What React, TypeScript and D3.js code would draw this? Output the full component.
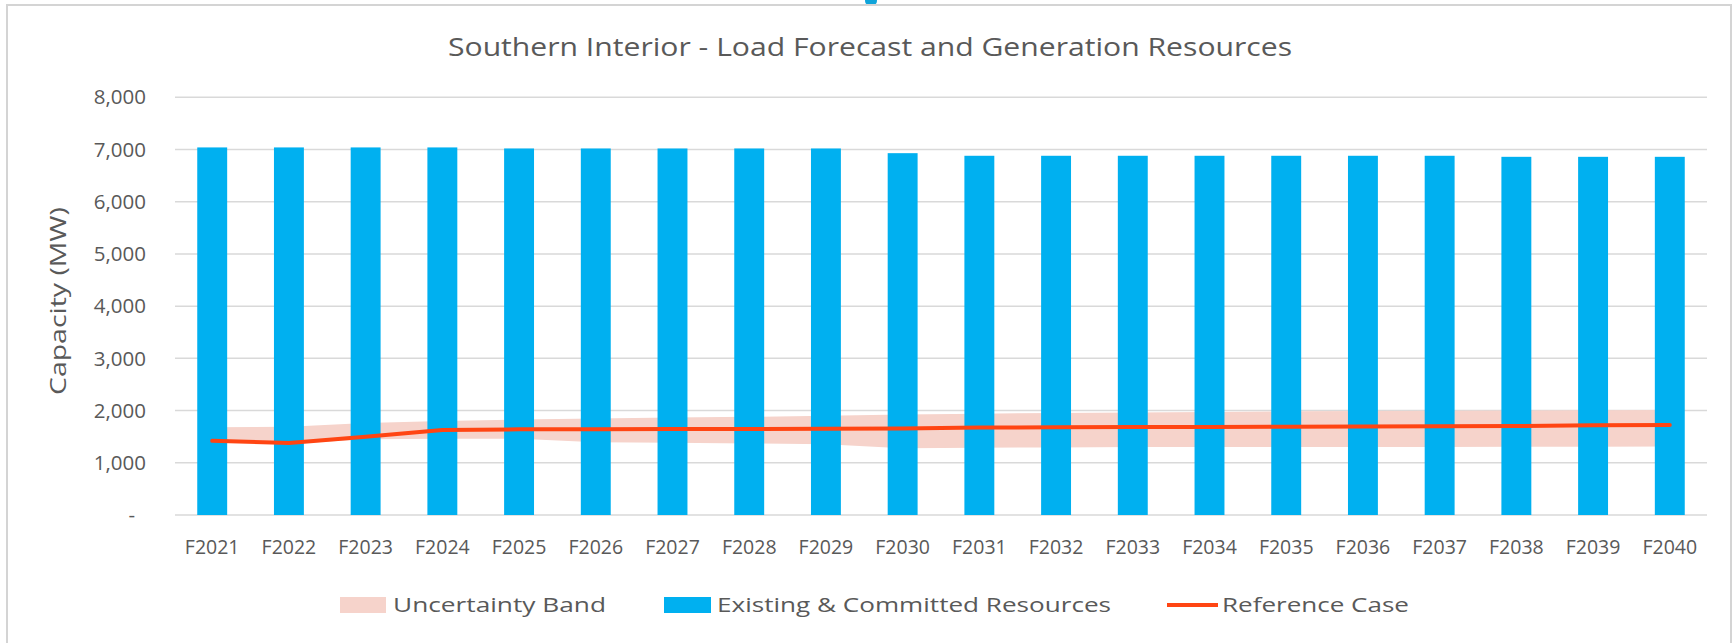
import React from "react";
import * as d3 from "d3";

const categories = ["F2021","F2022","F2023","F2024","F2025","F2026","F2027","F2028","F2029","F2030","F2031","F2032","F2033","F2034","F2035","F2036","F2037","F2038","F2039","F2040"];
const existingResources = [7040,7040,7040,7040,7020,7020,7020,7020,7020,6930,6880,6880,6880,6880,6880,6880,6880,6860,6860,6860];
const referenceCase = [1420,1380,1500,1630,1640,1640,1645,1645,1650,1655,1675,1680,1685,1685,1690,1695,1700,1705,1720,1725];
const bandUpper = [1680,1690,1760,1800,1830,1850,1865,1880,1900,1925,1940,1955,1965,1975,1985,1990,1995,2000,2005,2010];
const bandLower = [1400,1360,1450,1460,1460,1395,1385,1370,1355,1280,1290,1295,1300,1300,1300,1300,1300,1305,1305,1310];
const yTicks = [0,1000,2000,3000,4000,5000,6000,7000,8000];

const W = 1734, H = 643;
const FONT = "'Open Sans', sans-serif";
const TXT = "#595959";
const BAR = "#00B0F0";
const LINE = "#FF4513";
const BAND = "#F6D3CB";

export default function App() {
  const x = d3.scaleBand<string>().domain(categories).range([175, 1707]).paddingInner(0.61).paddingOuter(0.29);
  const y = d3.scaleLinear().domain([0, 8000]).range([515, 97.3]);
  const cx = (c: string) => (x(c) as number) + x.bandwidth() / 2;
  const fmt = d3.format(",");

  const area = d3.area<number>()
    .x((_, i) => cx(categories[i]))
    .y0((_, i) => y(bandLower[i]))
    .y1((_, i) => y(bandUpper[i]));
  const line = d3.line<number>()
    .x((_, i) => cx(categories[i]))
    .y((d) => y(d));

  return (
    <svg width={W} height={H} style={{ position: "absolute", left: 0, top: 0, background: "#fff" }} fontFamily={FONT}>
      <rect x={0} y={0} width={W} height={H} fill="#fff" />
      <ellipse cx={871} cy={1} rx={6} ry={5} fill="#0FA4DA" />
      <rect x={7} y={5} width={1724} height={680} fill="#fff" stroke="#D4D4D4" strokeWidth={2} />
      <text x={870} y={56} textAnchor="middle" fontSize={26} fill={TXT} textLength={844} lengthAdjust="spacingAndGlyphs">
        Southern Interior - Load Forecast and Generation Resources
      </text>
      {yTicks.map((t) => (
        <g key={t}>
          <line x1={175} x2={1707} y1={y(t)} y2={y(t)} stroke="#D9D9D9" strokeWidth={1.5} />
          <text x={t === 0 ? 135 : 146} y={y(t)} dy="0.35em" textAnchor="end" fontSize={20.5} fill={TXT}>
            {t === 0 ? "-" : fmt(t)}
          </text>
        </g>
      ))}
      <text transform={`translate(59,301) rotate(-90)`} textAnchor="middle" dy="0.35em" fontSize={21} fill={TXT} textLength={188} lengthAdjust="spacingAndGlyphs">
        Capacity (MW)
      </text>
      <path d={area(referenceCase) || ""} fill={BAND} />
      {categories.map((c, i) => (
        <rect key={c} x={x(c)} y={y(existingResources[i])} width={x.bandwidth()} height={y(0) - y(existingResources[i])} fill={BAR} />
      ))}
      <path d={line(referenceCase) || ""} fill="none" stroke={LINE} strokeWidth={4} strokeLinejoin="round" strokeLinecap="round" />
      {categories.map((c) => (
        <text key={c} x={cx(c)} y={547} dy="0.35em" textAnchor="middle" fontSize={19.5} fill={TXT}>
          {c}
        </text>
      ))}
      <g>
        <rect x={340} y={597} width={46} height={16} fill={BAND} />
        <text x={393} y={605} dy="0.35em" fontSize={20.5} fill={TXT} textLength={213} lengthAdjust="spacingAndGlyphs">Uncertainty Band</text>
        <rect x={664} y={597} width={47} height={16} fill={BAR} />
        <text x={717} y={605} dy="0.35em" fontSize={20.5} fill={TXT} textLength={394} lengthAdjust="spacingAndGlyphs">Existing &amp; Committed Resources</text>
        <line x1={1167} x2={1218} y1={605} y2={605} stroke={LINE} strokeWidth={4} />
        <text x={1222} y={605} dy="0.35em" fontSize={20.5} fill={TXT} textLength={187} lengthAdjust="spacingAndGlyphs">Reference Case</text>
      </g>
    </svg>
  );
}
